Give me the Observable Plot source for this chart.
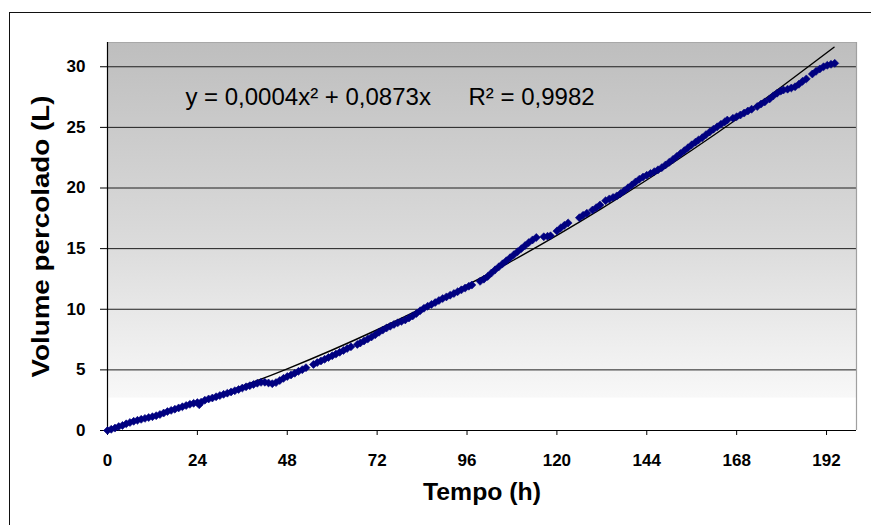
<!DOCTYPE html>
<html><head><meta charset="utf-8">
<script src="https://cdn.jsdelivr.net/npm/d3@7"></script>
<script src="https://cdn.jsdelivr.net/npm/@observablehq/plot@0.6"></script>
<style>
html,body{margin:0;padding:0;background:#fff;overflow:hidden;}
#wrap{position:relative;width:871px;height:525px;overflow:hidden;}
#chart{position:absolute;left:0;top:0;}
#border{position:absolute;left:9px;top:12px;width:900px;height:600px;border:1px solid #111;box-sizing:border-box;pointer-events:none;}
</style></head>
<body><div id="wrap"><div id="chart"></div><div id="border"></div></div>
<script>
// Measured series: time (h) and percolated volume (L)
const timeH = [
  0,1,2,3,4,5,6,7,8,9,10,11,12,13,14,15,16,17,18,19,20,21,22,23,24,24.5,25,26,27,28,29,30,31,32,33,34,35,36,37,38,39,40,41,42,43,44,45,46,47,48,49,50,51,52,53,
  55,56,57,58,59,60,61,62,63,64,65,
  66.7,67.5,68.5,69.5,70.5,71.5,72.5,73.5,74.5,75.5,76.5,77.5,78.5,79.5,80.5,81.5,82.5,83.5,84.5,85.5,86.5,87.5,88.5,89.5,90.5,91.5,92.5,93.5,94.5,95.5,96.5,97.3,
  99.5,100.5,101.5,102.5,103.5,104.5,105.5,106.5,107.5,108.5,109.5,110.5,111.5,112.5,113.5,114.5,
  116.5,117.5,118.3,
  120,121,122,123,
  126,127,128,
  129.5,130.5,131.5,
  133,134,135,136,137,138,139,140,141,142,143,144,145,146,
  147,148,
  149,150,151,152,153,154,155,156,157,
  157.8,158.8,159.8,160.8,161.8,162.8,163.8,164.8,165.5,
  167,168,169,170,171,172,
  173.5,174.5,175.5,
  176.8,177.8,178.8,179.8,180.5,
  181.6,182.6,183.6,184.6,185.6,186.6,
  188.2,189.2,190.2,191.2,192.2,193.2,194.2
];
const volumeL = [
  0,0.1,0.2,0.32,0.42,0.55,0.66,0.76,0.84,0.92,1.0,1.07,1.14,1.22,1.32,1.44,1.56,1.66,1.76,1.86,1.96,2.06,2.16,2.24,2.3,2.12,2.34,2.5,2.6,2.68,2.78,2.88,2.98,3.08,3.18,3.28,3.38,3.5,3.6,3.7,3.8,3.9,3.97,3.98,3.92,3.86,3.95,4.12,4.3,4.45,4.58,4.72,4.88,5.02,5.18,
  5.45,5.6,5.74,5.88,6.02,6.16,6.3,6.45,6.6,6.76,6.9,
  7.1,7.22,7.38,7.55,7.72,7.9,8.1,8.28,8.45,8.6,8.75,8.88,9.0,9.12,9.28,9.45,9.65,9.88,10.08,10.25,10.4,10.55,10.72,10.88,11.02,11.16,11.3,11.45,11.6,11.75,11.9,12.0,
  12.3,12.48,12.7,12.98,13.25,13.5,13.75,14.0,14.25,14.5,14.75,15.0,15.25,15.5,15.72,15.92,
  15.98,16.02,16.06,
  16.45,16.7,16.92,17.12,
  17.55,17.75,17.92,
  18.18,18.38,18.6,
  18.95,19.1,19.22,19.35,19.55,19.78,20.02,20.25,20.5,20.72,20.9,21.05,21.2,21.35,
  21.5,21.68,
  21.9,22.12,22.36,22.6,22.84,23.08,23.32,23.56,23.78,
  23.95,24.15,24.4,24.62,24.85,25.05,25.25,25.45,25.6,
  25.75,25.88,26.02,26.18,26.35,26.5,
  26.72,26.92,27.1,
  27.35,27.6,27.82,28.0,28.08,
  28.15,28.25,28.35,28.55,28.8,29.0,
  29.4,29.62,29.82,30.0,30.12,30.2,30.28
];
// Polynomial trendline
const trendT = [0,12,24,36,48,60,72,84,96,108,120,132,144,156,168,180,194];
const trendV = [0,1.10,2.32,3.65,5.09,6.64,8.31,10.09,11.98,13.98,16.09,18.32,20.66,23.11,25.67,28.35,31.61];
const xTicks = [0,24,48,72,96,120,144,168,192];
const yTicks = [0,5,10,15,20,25,30];
const xTitle = "Tempo (h)";
const yTitle = "Volume percolado (L)";
const eqText = "y = 0,0004x² + 0,0873x";
const r2Text = "R² = 0,9982";

const points = timeH.map((t, i) => ({t, v: volumeL[i]}));
const trend = trendT.map((t, i) => ({t, v: trendV[i]}));

const plot = Plot.plot({
  width: 871, height: 525,
  marginLeft: 107, marginRight: 15, marginTop: 42, marginBottom: 95,
  style: {background: "transparent", fontFamily: "'Liberation Sans', Arial, sans-serif", color: "#000", overflow: "visible"},
  x: {domain: [0, 200]},
  y: {domain: [0, 32]},
  marks: [
    Plot.frame({fill: "url(#plotBg)", stroke: null}),
    Plot.ruleY(yTicks.filter(d => d > 0), {stroke: "#1e1e1e", strokeWidth: 1}),
    Plot.ruleY([32], {stroke: "#a8a8a8", strokeWidth: 1}),
    Plot.ruleX([200], {stroke: "#a0a0a0", strokeWidth: 1.2}),
    Plot.axisX({ticks: xTicks, tickSize: 5, tickPadding: 18, fontSize: 17, fontWeight: "bold", label: null, stroke: "#000"}),
    Plot.axisY({ticks: yTicks, tickSize: 7, tickPadding: 15, fontSize: 17, fontWeight: "bold", label: null, stroke: "#000"}),
    Plot.ruleX([0], {stroke: "#000", strokeWidth: 1.2}),
    Plot.ruleY([0], {stroke: "#000", strokeWidth: 1.2}),
    Plot.line(trend, {x: "t", y: "v", curve: "natural", stroke: "#000", strokeWidth: 1.4}),
    Plot.dot(points, {x: "t", y: "v", symbol: "diamond2", r: 3.6, fill: "#000080", stroke: "#000080", strokeWidth: 0.6}),
    Plot.text([eqText], {x: 20.8, y: 27.5, textAnchor: "start", lineAnchor: "middle", fontSize: 24, fontWeight: "normal", fill: "#000"}),
    Plot.text([r2Text], {x: 96.4, y: 27.5, textAnchor: "start", lineAnchor: "middle", fontSize: 24, fontWeight: "normal", fill: "#000"}),
    Plot.text([xTitle], {frameAnchor: "bottom", dy: 69, textAnchor: "middle", fontSize: 23, fontWeight: "bold", fill: "#000"}),
    Plot.text([yTitle], {frameAnchor: "left", dx: -66, textAnchor: "middle", rotate: -90, fontSize: 24, fontWeight: "bold", fill: "#000"})
  ]
});

const svgNS = "http://www.w3.org/2000/svg";
const defs = document.createElementNS(svgNS, "defs");
defs.innerHTML = '<linearGradient id="plotBg" x1="0" y1="0" x2="0" y2="1">' +
  '<stop offset="0" stop-color="#bebebe"/>' +
  '<stop offset="0.5" stop-color="#dadada"/>' +
  '<stop offset="0.914" stop-color="#f8f8f8"/>' +
  '<stop offset="0.916" stop-color="#ffffff"/>' +
  '<stop offset="1" stop-color="#ffffff"/>' +
  '</linearGradient>';
plot.insertBefore(defs, plot.firstChild);
// match axis title lengths to the reference
plot.querySelectorAll("text").forEach(el => {
  if (el.textContent === yTitle) { el.setAttribute("textLength", 282); el.setAttribute("lengthAdjust", "spacingAndGlyphs"); }
  if (el.textContent === xTitle) { el.setAttribute("textLength", 118); el.setAttribute("lengthAdjust", "spacingAndGlyphs"); }
});
document.getElementById("chart").appendChild(plot);
</script>
</body></html>
